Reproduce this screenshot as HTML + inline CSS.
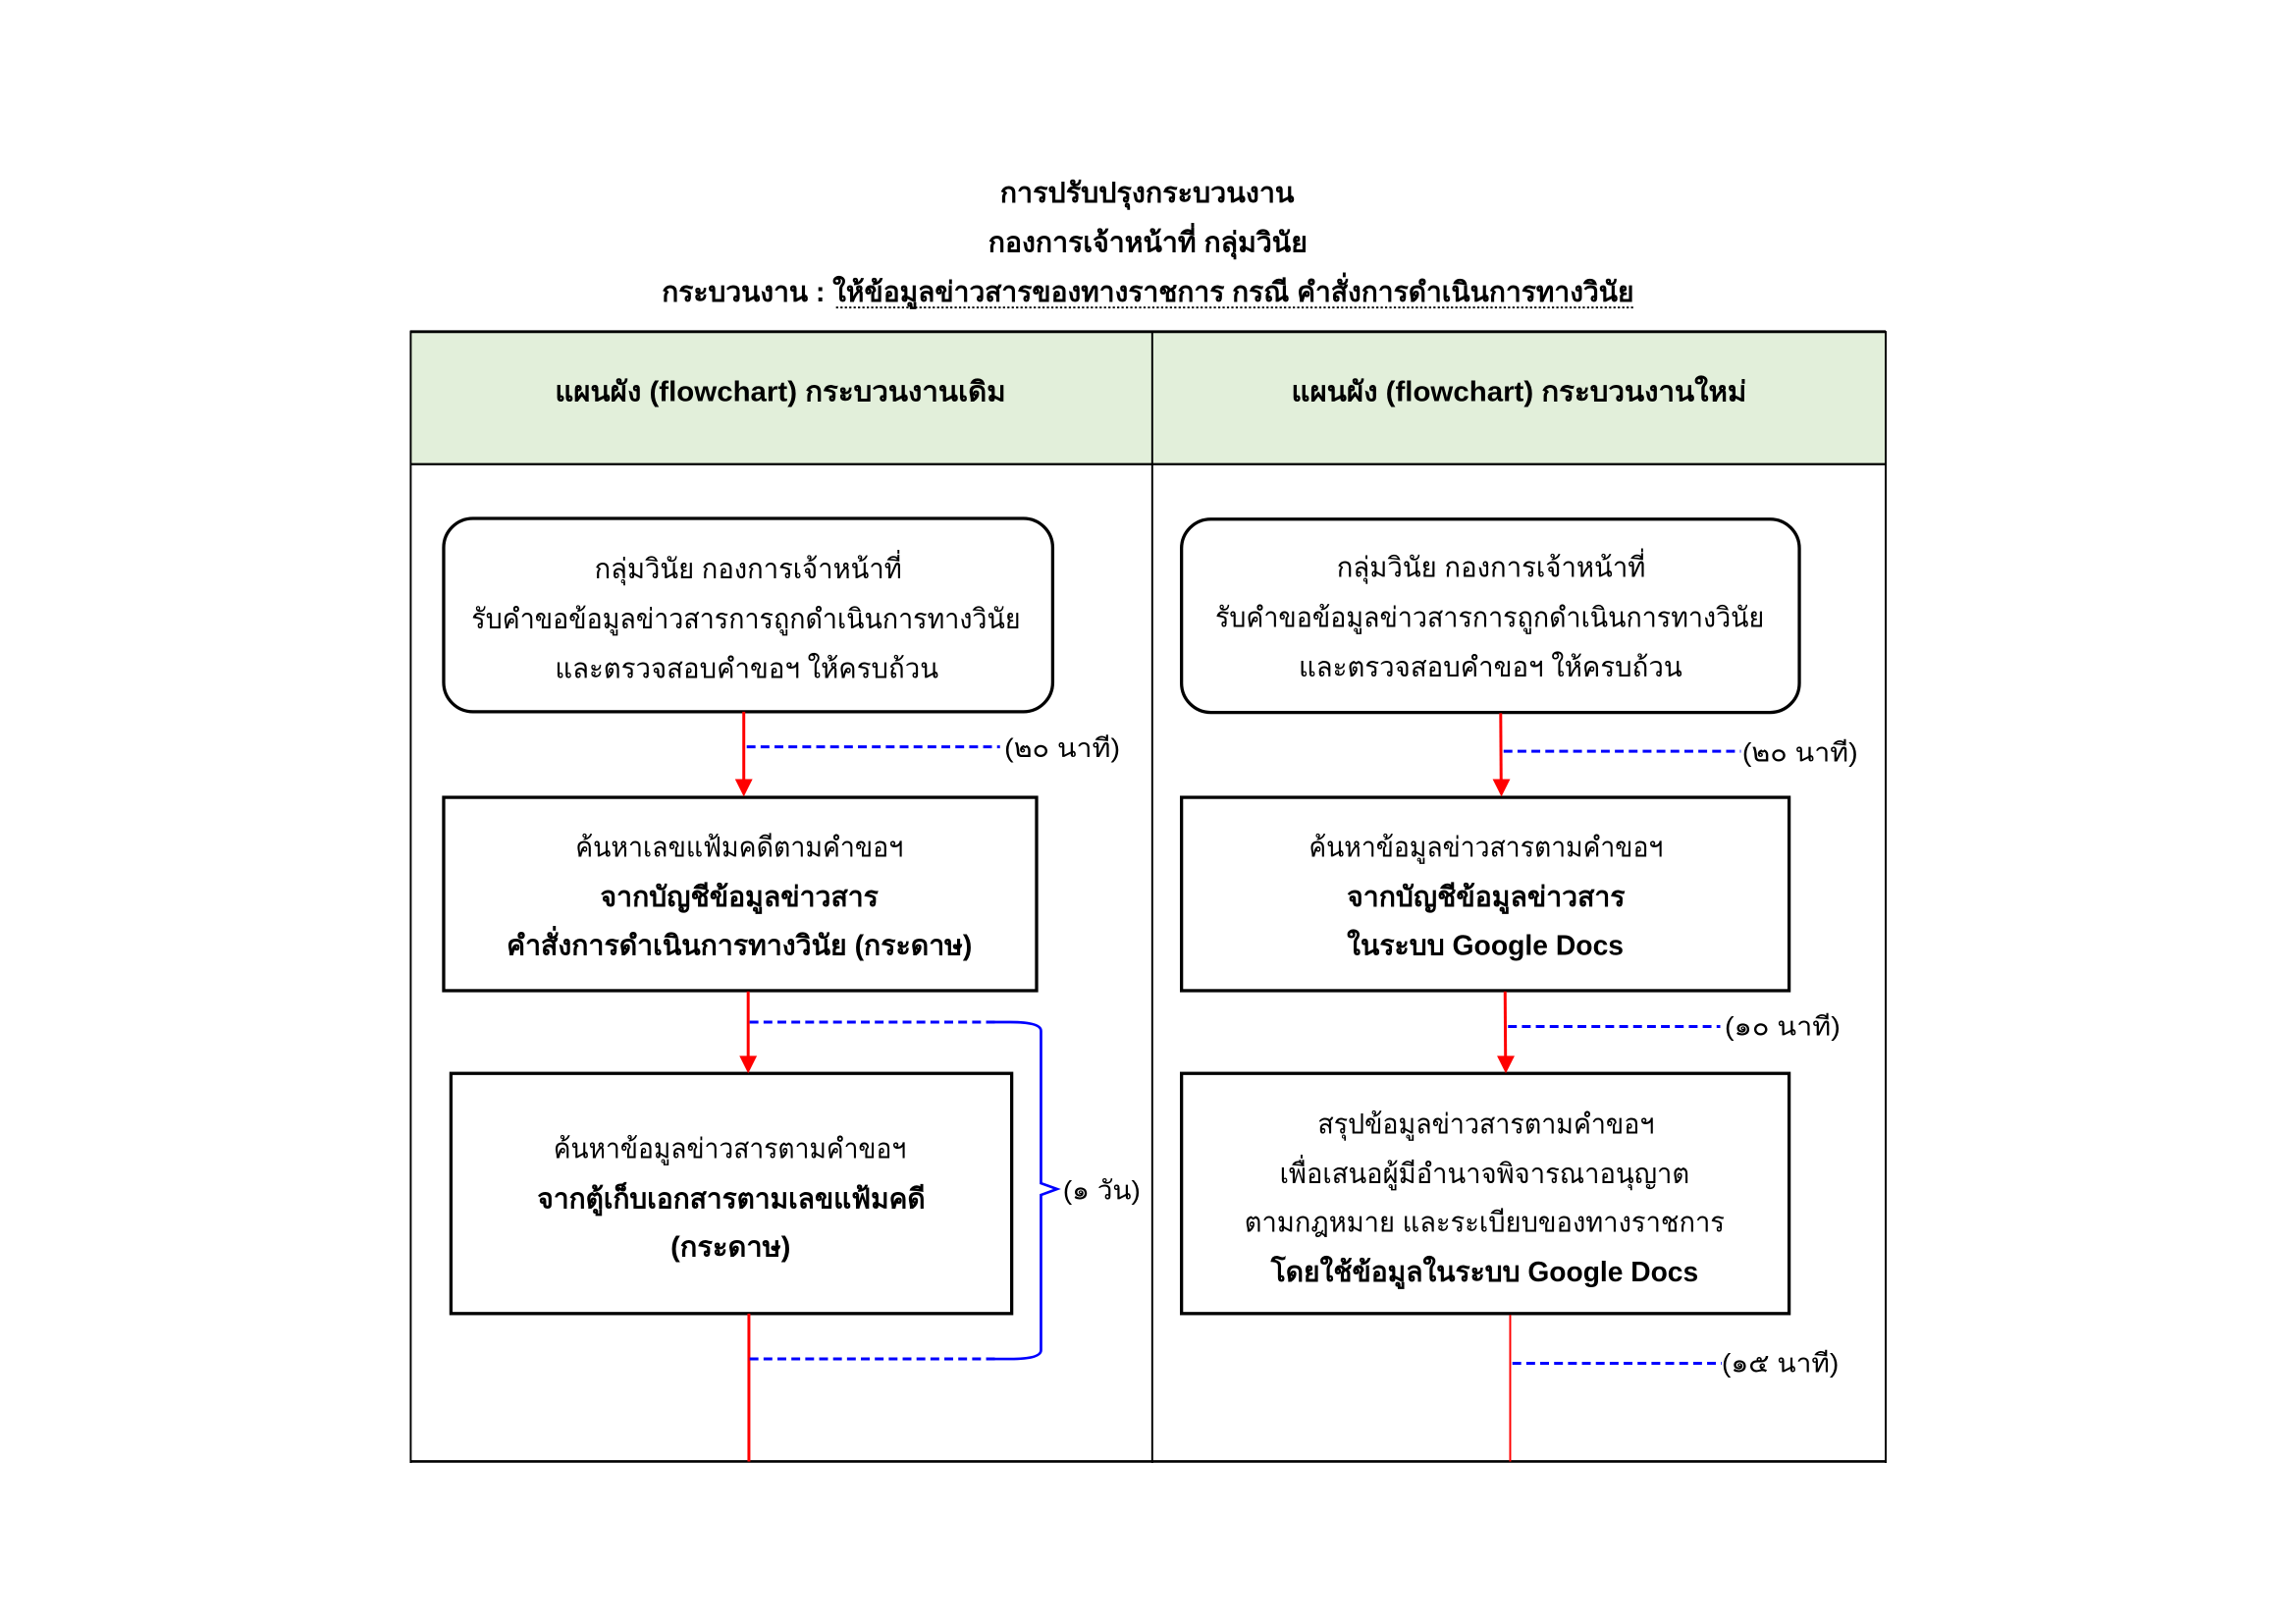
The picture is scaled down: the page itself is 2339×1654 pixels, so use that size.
<!DOCTYPE html>
<html><head><meta charset="utf-8"><style>
html,body{margin:0;padding:0;background:#fff;}
svg{display:block;}
text{font-family:"Liberation Sans","DejaVu Sans",sans-serif;fill:#000;}
.b{font-weight:bold;}
</style></head><body>
<svg width="2339" height="1654" viewBox="0 0 1568.2 1109" xmlns="http://www.w3.org/2000/svg">
<rect x="0" y="0" width="1568.2" height="1109" fill="#fff"/>
<!-- Title -->
<g font-size="19" text-anchor="middle" class="b">
<text class="b" x="783.5" y="138" textLength="201" lengthAdjust="spacingAndGlyphs">การปรับปรุงกระบวนงาน</text>
<text class="b" x="784" y="172" textLength="218" lengthAdjust="spacingAndGlyphs">กองการเจ้าหน้าที่ กลุ่มวินัย</text>
</g>
<text class="b" x="452" y="206" font-size="19" textLength="664" lengthAdjust="spacingAndGlyphs">กระบวนงาน : ให้ข้อมูลข่าวสารของทางราชการ กรณี คำสั่งการดำเนินการทางวินัย</text>
<line x1="571" y1="210" x2="1116" y2="210" stroke="#000" stroke-width="1.2" stroke-dasharray="1.5,1.5"/>
<!-- Table -->
<rect x="280" y="226" width="1008" height="91" fill="#e2efda"/>
<line x1="280" y1="226.5" x2="1288" y2="226.5" stroke="#000" stroke-width="2"/>
<line x1="280" y1="317" x2="1288" y2="317" stroke="#000" stroke-width="1.5"/>
<line x1="280" y1="998" x2="1288" y2="998" stroke="#000" stroke-width="1.8"/>
<line x1="280.5" y1="226" x2="280.5" y2="999" stroke="#000" stroke-width="1.3"/>
<line x1="1288" y1="226" x2="1288" y2="999" stroke="#000" stroke-width="1.3"/>
<line x1="787" y1="226" x2="787" y2="999" stroke="#000" stroke-width="1.3"/>
<text class="b" x="533" y="274" font-size="19" text-anchor="middle" textLength="308" lengthAdjust="spacingAndGlyphs">แผนผัง (flowchart) กระบวนงานเดิม</text>
<text class="b" x="1037.5" y="274" font-size="19" text-anchor="middle" textLength="311" lengthAdjust="spacingAndGlyphs">แผนผัง (flowchart) กระบวนงานใหม่</text>

<g fill="none" stroke="#000" stroke-width="2.2">
<rect x="303" y="354" width="416" height="132" rx="20" ry="20"/>
<rect x="807" y="354.5" width="422" height="132" rx="20" ry="20"/>
<rect x="303" y="544.5" width="405" height="132"/>
<rect x="807" y="544.5" width="415" height="132"/>
<rect x="308" y="733" width="383" height="164"/>
<rect x="807" y="733" width="415" height="164"/>
</g>

<!-- red connectors -->
<g stroke="#f00" stroke-width="2" fill="none">
<line x1="508" y1="486" x2="508" y2="533"/>
<line x1="1025" y1="487" x2="1025.3" y2="533"/>
<line x1="511" y1="677" x2="511" y2="722"/>
<line x1="1028" y1="677" x2="1028.3" y2="722"/>
<line x1="511.5" y1="897" x2="511.5" y2="998"/>
<line x1="1031.5" y1="898" x2="1031.5" y2="998" stroke-width="1.3"/>
</g>
<g fill="#f00">
<polygon points="502,532 514,532 508,544"/>
<polygon points="1019.5,532 1031.5,532 1025.5,544"/>
<polygon points="505,721 517,721 511,733"/>
<polygon points="1022.5,721 1034.5,721 1028.5,733"/>
</g>

<!-- blue dashed -->
<g stroke="#00f" stroke-width="2" fill="none" stroke-dasharray="6,3.5">
<line x1="510" y1="510" x2="683" y2="510"/>
<line x1="1027" y1="513" x2="1189" y2="513"/>
<line x1="1030" y1="701" x2="1175" y2="701"/>
<line x1="1033" y1="931" x2="1176" y2="931"/>
<line x1="512" y1="698" x2="680" y2="698"/>
<line x1="512" y1="928" x2="680" y2="928"/>
</g>
<path d="M678,698 L690,698 Q711,698 711,704 L711,808 L722,812 L711,816 L711,922 Q711,928 690,928 L678,928" stroke="#00f" stroke-width="1.8" fill="none"/>

<!-- labels -->
<g font-size="18">
<text x="686" y="517" textLength="79" lengthAdjust="spacingAndGlyphs">(๒๐ นาที)</text>
<text x="1190" y="520" textLength="79" lengthAdjust="spacingAndGlyphs">(๒๐ นาที)</text>
<text x="1178" y="707" textLength="79" lengthAdjust="spacingAndGlyphs">(๑๐ นาที)</text>
<text x="726" y="819" textLength="53" lengthAdjust="spacingAndGlyphs">(๑ วัน)</text>
<text x="1176" y="937" textLength="80" lengthAdjust="spacingAndGlyphs">(๑๕ นาที)</text>
</g>

<!-- box texts -->
<g font-size="19" text-anchor="middle">
<text x="511" y="395" textLength="210" lengthAdjust="spacingAndGlyphs">กลุ่มวินัย กองการเจ้าหน้าที่</text>
<text x="509.5" y="429" textLength="375" lengthAdjust="spacingAndGlyphs">รับคำขอข้อมูลข่าวสารการถูกดำเนินการทางวินัย</text>
<text x="510" y="463" textLength="262" lengthAdjust="spacingAndGlyphs">และตรวจสอบคำขอฯ ให้ครบถ้วน</text>

<text x="1018.5" y="394" textLength="211" lengthAdjust="spacingAndGlyphs">กลุ่มวินัย กองการเจ้าหน้าที่</text>
<text x="1017.5" y="428" textLength="375" lengthAdjust="spacingAndGlyphs">รับคำขอข้อมูลข่าวสารการถูกดำเนินการทางวินัย</text>
<text x="1018" y="462" textLength="262" lengthAdjust="spacingAndGlyphs">และตรวจสอบคำขอฯ ให้ครบถ้วน</text>

<text x="505" y="585" textLength="224" lengthAdjust="spacingAndGlyphs">ค้นหาเลขแฟ้มคดีตามคำขอฯ</text>
<text class="b" x="505" y="619" textLength="190" lengthAdjust="spacingAndGlyphs">จากบัญชีข้อมูลข่าวสาร</text>
<text class="b" x="505" y="652" textLength="318" lengthAdjust="spacingAndGlyphs">คำสั่งการดำเนินการทางวินัย (กระดาษ)</text>

<text x="1015" y="585" textLength="242" lengthAdjust="spacingAndGlyphs">ค้นหาข้อมูลข่าวสารตามคำขอฯ</text>
<text class="b" x="1015" y="619" textLength="190" lengthAdjust="spacingAndGlyphs">จากบัญชีข้อมูลข่าวสาร</text>
<text class="b" x="1014.5" y="652" textLength="189" lengthAdjust="spacingAndGlyphs">ในระบบ Google Docs</text>

<text x="498.5" y="791" textLength="241" lengthAdjust="spacingAndGlyphs">ค้นหาข้อมูลข่าวสารตามคำขอฯ</text>
<text class="b" x="499.5" y="825" textLength="265" lengthAdjust="spacingAndGlyphs">จากตู้เก็บเอกสารตามเลขแฟ้มคดี</text>
<text class="b" x="499" y="858" textLength="82" lengthAdjust="spacingAndGlyphs">(กระดาษ)</text>

<text x="1015" y="774" textLength="230" lengthAdjust="spacingAndGlyphs">สรุปข้อมูลข่าวสารตามคำขอฯ</text>
<text x="1014" y="808" textLength="280" lengthAdjust="spacingAndGlyphs">เพื่อเสนอผู้มีอำนาจพิจารณาอนุญาต</text>
<text x="1014" y="841" textLength="328" lengthAdjust="spacingAndGlyphs">ตามกฎหมาย และระเบียบของทางราชการ</text>
<text class="b" x="1014" y="875" textLength="292" lengthAdjust="spacingAndGlyphs">โดยใช้ข้อมูลในระบบ Google Docs</text>
</g>
</svg>
</body></html>
